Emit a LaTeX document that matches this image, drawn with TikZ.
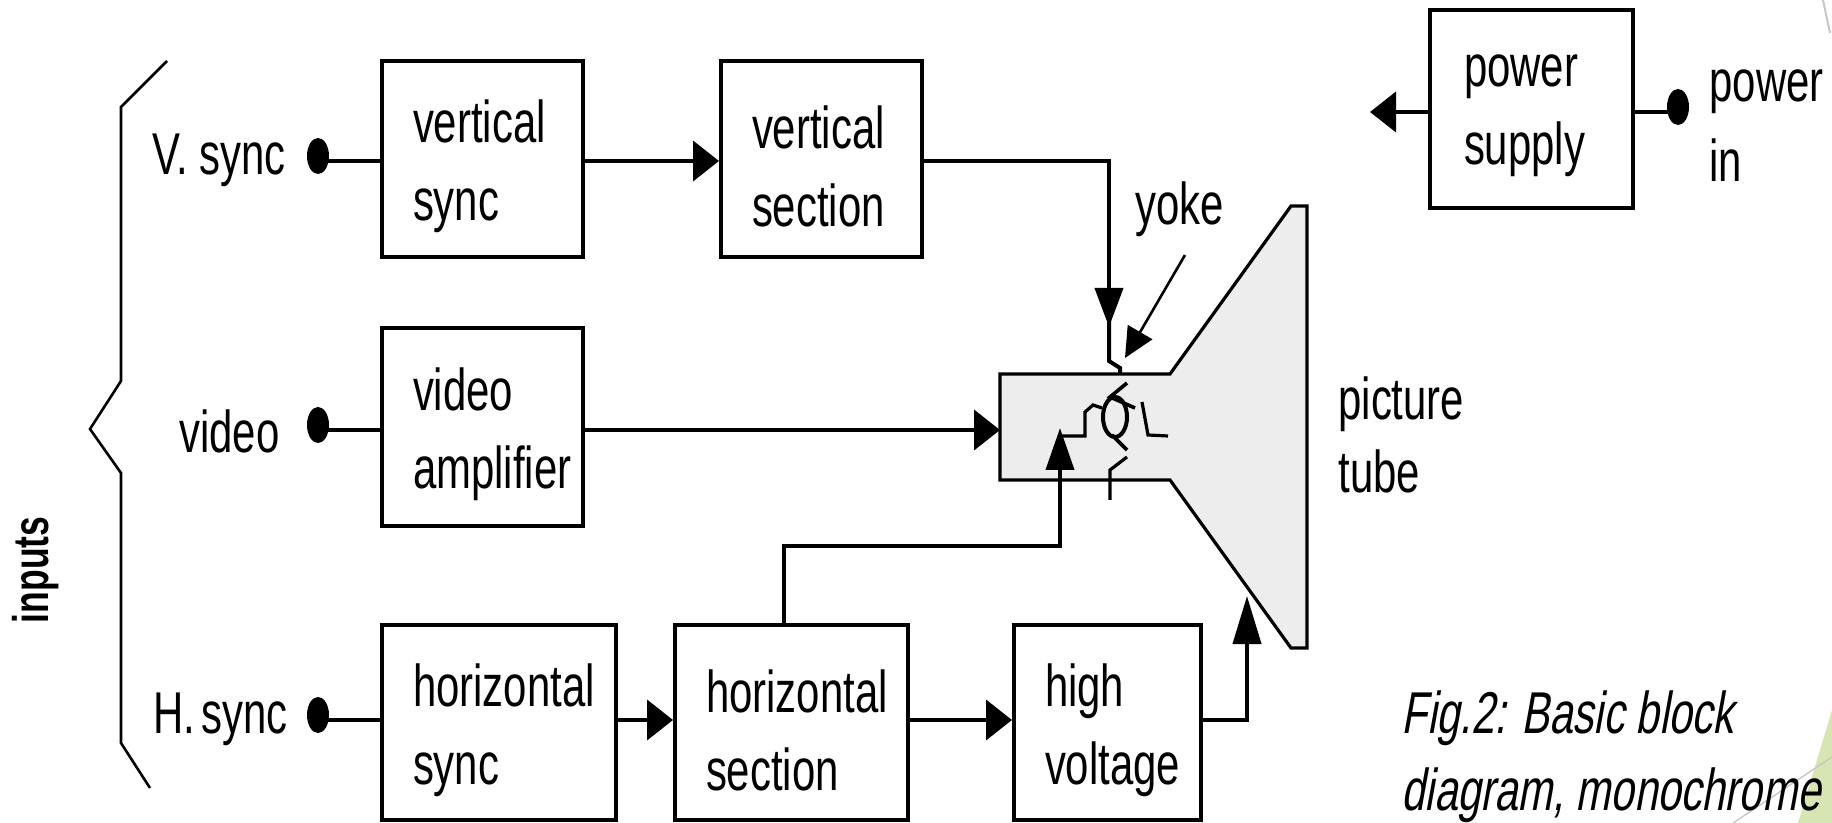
\documentclass[tikz,border=0pt]{standalone}
\usepackage{fontspec}
\setmainfont[FakeStretch=0.71]{Liberation Sans}
\newfontfamily\capfont[FakeStretch=0.71,FakeSlant=0.18]{Liberation Sans}
\usetikzlibrary{arrows.meta,shapes.geometric}
\newcommand{\firstline}{\rule{0pt}{29pt}}
\definecolor{cornergreen}{RGB}{214,229,178}
\tikzset{
  lbl/.style={font=\fontsize{29.5}{39}\selectfont,anchor=base west,inner sep=0pt,align=left},
  blockbox/.style 2 args={draw=black,line width=2pt,inner xsep=15.5pt,inner ysep=0pt,
    minimum height=#2,text width=#1,align=left,font=\fontsize{29.5}{39}\selectfont},
  wire/.style={line width=2pt,draw=black},
  thinw/.style={line width=1.3pt,draw=black},
  arr/.style={wire,-{Triangle[length=13pt,width=20pt]}},
  dot/.style={ellipse,fill=black,inner sep=0pt,minimum width=11pt,minimum height=18pt},
  tube/.style={fill=black!7,draw=black,line width=1.6pt,line join=miter}
}
\begin{document}
\begin{tikzpicture}[x=0.5pt,y=-0.5pt]
\useasboundingbox (0,0) rectangle (1832,823);
% background decoration at the page corner
\fill[cornergreen] (1832,710) -- (1798,823) -- (1832,823) -- cycle;
\draw[black!22,line width=0.7pt] (1832,757) -- (1733,823);
\draw[black!22,line width=1pt] (1823,0) -- (1830,33);
% picture tube
\draw[tube] (1000,374) -- (1170,374) -- (1291,206) -- (1307,206) -- (1307,648) -- (1291,648) -- (1170,480) -- (1000,480) -- cycle;
\coordinate (tubeL) at (1000,430);
% blocks
\node[blockbox={69.5pt}{98pt}] (vs) at (482.5,159) {\firstline vertical\\sync};
\node[blockbox={69.5pt}{98pt}] (vsec) at (821.5,159) {\firstline vertical\\section};
\node[blockbox={69.5pt}{99pt}] (va) at (482.5,427) {\firstline video\\amplifier};
\node[blockbox={86pt}{97.5pt}] (hs) at (499,722.5) {\firstline\mbox{horizontal}\\sync};
\node[blockbox={85.5pt}{97.5pt}] (hsec) at (791.5,722.5) {\firstline\mbox{horizontal}\\section};
\node[blockbox={62.5pt}{97.5pt}] (hv) at (1107.5,722.5) {\firstline high\\voltage};
\node[blockbox={67.5pt}{99pt},inner xsep=17pt] (ps) at (1531.5,109) {\rule{0pt}{23pt}power\\supply};
% terminals
\node[dot] (dv) at (318,156) {};
\node[dot] (dvid) at (318,425) {};
\node[dot] (dh) at (318,715) {};
\node[dot] (dp) at (1678,107) {};
\coordinate (wv) at (300,161);
\coordinate (wvid) at (300,430);
\coordinate (wh) at (300,720);
\coordinate (wp) at (1500,112);
\coordinate (pout) at (1370,112);
% connectors
\draw[wire] (dv.center |- wv) -- (wv -| vs.west);
\draw[wire] (dvid.center |- wvid) -- (wvid -| va.west);
\draw[wire] (dh.center |- wh) -- (wh -| hs.west);
\draw[arr] (vs.east |- wv) -- (vsec.west |- wv);
\draw[arr] (va.east |- wvid) -- (tubeL);
\draw[arr] (hs.east |- wh) -- (hsec.west |- wh);
\draw[arr] (hsec.east |- wh) -- (hv.west |- wh);
\draw[wire] (dp.center |- wp) -- (ps.east |- wp);
\draw[arr] (ps.west |- wp) -- (pout);
\coordinate (yokeT) at (1109,327);
\draw[wire,-{Triangle[length=19.5pt,width=14pt]}] (vsec.east |- wv) -| (yokeT);
\draw[wire] (1109,310) -- (1109,361) -- (1120,368) -- (1120,374);
\coordinate (hup) at (784,546);
\coordinate (waveS) at (1060,428);
\draw[wire] (hup |- hsec.north) -- (hup) -| (1060,470);
\draw[wire,-{Triangle[length=21pt,width=14pt]}] (1060,470) -- (waveS);
\coordinate (hvt) at (1247,596);
\draw[wire,-{Triangle[length=24pt,width=14pt]}] (hv.east |- wh) -| (hvt);
% yoke pointer
\node[lbl] (ly) at (1135,225) {yoke};
\coordinate (yp) at (1125,358);
\draw[thinw,-{Triangle[length=15pt,width=14pt]}] (1185,255) -- (yp);
% beam waveform and deflection coil
\draw[line width=1.6pt] (1060,436) -- (1085,436) -- (1085,412) -- (1093,405) -- (1102,408);
\draw[line width=1.6pt] (1142,402) -- (1148,435) -- (1168,436);
\draw[line width=2pt] (1115,417) ellipse (12 and 20);
\draw[line width=1.8pt] (1127,383) -- (1110,397) -- (1135,408);
\draw[line width=1.8pt] (1112,435) -- (1127,450);
\draw[line width=1.6pt] (1127,457) -- (1110,470) -- (1110,500);
% brace
\draw[thinw] (167,61) -- (121,107) -- (121,381) -- (90,429) -- (121,473) -- (121,743) -- (150,788);
% labels
\node[lbl] (l1) at (152,175) {V. sync};
\node[lbl] (l2) at (179,453) {video};
\node[lbl] (l3) at (153,733) {\spaceskip=3pt H. sync};
\node[lbl] (l4) at (1338,420) {picture};
\node[lbl] (l5) at (1338,493) {tube};
\node[lbl] (l6) at (1709,102) {power};
\node[lbl] (l7) at (1709,182) {in};
\node[lbl,font=\fontsize{29.5}{39}\capfont] (l8) at (1401,733) {Fig.2: Basic block};
\node[lbl,font=\fontsize{29.5}{39}\capfont] (l9) at (1401,810) {diagram, monochrome};
\node[font=\fontsize{25}{25}\selectfont\bfseries,rotate=90,inner sep=0pt] (l10) at (36,570) {inputs};
\end{tikzpicture}
\end{document}
